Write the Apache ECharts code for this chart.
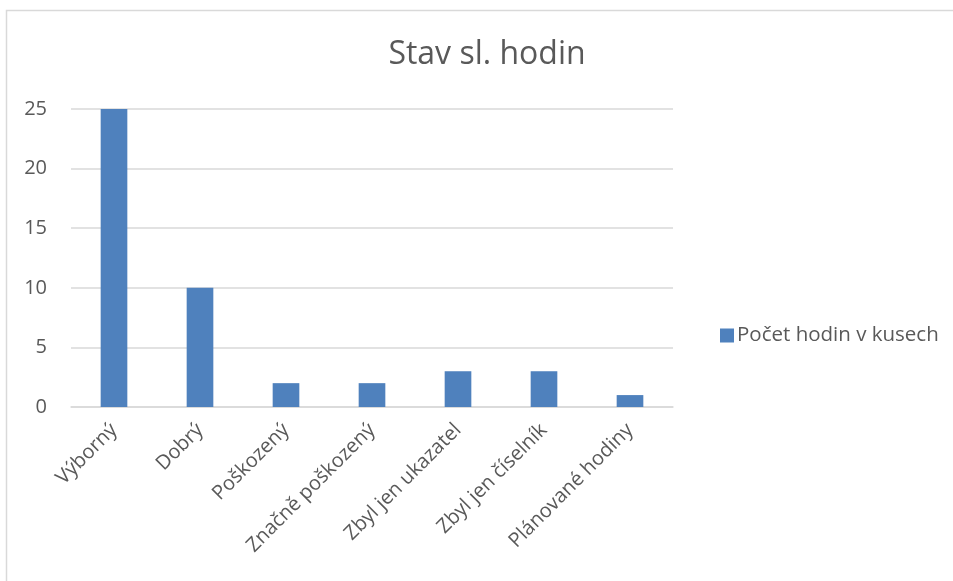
<!DOCTYPE html>
<html>
<head>
<meta charset="utf-8">
<script src="https://cdn.jsdelivr.net/npm/echarts@6/dist/echarts.min.js"></script>
<style>
  html, body { margin: 0; padding: 0; background: #fff; }
  #chart { width: 953px; height: 581px; }
</style>
</head>
<body>
<div id="chart"></div>
<script>
var categories = ['Výborný', 'Dobrý', 'Poškozený', 'Značně poškozený', 'Zbyl jen ukazatel', 'Zbyl jen číselník', 'Plánované hodiny'];
var pocetHodin = [25, 10, 2, 2, 3, 3, 1];
var seriesName = 'Počet hodin v kusech';

var myChart = echarts.init(document.getElementById('chart'));
var font = '"Open Sans", "Noto Sans", sans-serif';

var option = {
    animation: false,
    textStyle: { fontFamily: font },
    graphic: [
        {
            type: 'rect',
            shape: { x: 6.5, y: 10.5, width: 960, height: 600 },
            style: { fill: 'none', stroke: '#d9d9d9', lineWidth: 1.5 },
            silent: true
        }
    ],
    title: {
        text: 'Stav sl. hodin',
        left: 482,
        textAlign: 'center',
        top: 34,
        textStyle: { fontSize: 32, fontWeight: 'normal', color: '#595959', fontFamily: font }
    },
    legend: {
        data: [seriesName],
        left: 715,
        top: 320,
        itemWidth: 14,
        itemHeight: 14,
        itemGap: 8,
        icon: 'rect',
        textStyle: { fontSize: 20.5, color: '#595959', fontFamily: font, padding: [0, 0, 0, -2] }
    },
    grid: {
        left: 71,
        right: 280,
        top: 109,
        bottom: 174,
        containLabel: false
    },
    xAxis: {
        type: 'category',
        data: categories,
        axisLine: { lineStyle: { color: '#d9d9d9', width: 1.5 } },
        axisTick: { show: false },
        axisLabel: {
            rotate: 45,
            interval: 0,
            margin: 20,
            fontSize: 20,
            color: '#595959',
            fontFamily: font
        }
    },
    yAxis: {
        type: 'value',
        min: 0,
        max: 25,
        interval: 5,
        axisLine: { show: false },
        axisTick: { show: false },
        splitLine: { lineStyle: { color: '#d9d9d9', width: 1.5 } },
        axisLabel: {
            fontSize: 20,
            color: '#595959',
            margin: 24,
            fontFamily: font
        }
    },
    series: [
        {
            name: seriesName,
            type: 'bar',
            data: pocetHodin,
            barWidth: '31%',
            itemStyle: { color: '#4F81BD' }
        }
    ]
};

myChart.setOption(option);
</script>
</body>
</html>
